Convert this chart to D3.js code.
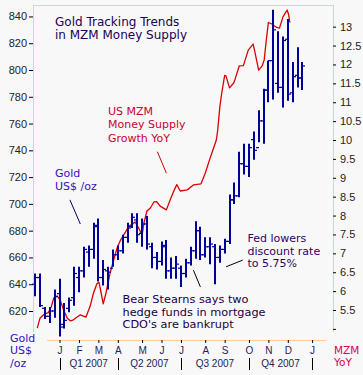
<!DOCTYPE html>
<html>
<head>
<meta charset="utf-8">
<script src="https://d3js.org/d3.v7.min.js"></script>
<style>
body { margin: 0; background: #f8f8f8; }
svg { display: block; font-family: "DejaVu Sans", Verdana, sans-serif; }
.axis .tick text { font-size: 11px; fill: #222; }
.axis .tick line { stroke: #000; }
.months .tick text { font-size: 10px; fill: #2a1a5e; }
.quarter { font-family: "Liberation Sans", Arial, sans-serif; font-size: 10px; fill: #222255; }
.note { font-size: 11px; }
</style>
</head>
<body>
<svg width="363" height="375"></svg>
<script>

// weekly gold bars, one per week, first week starting Monday 27 Nov 2006
var goldWeekStart = "2006-11-27";
var goldHigh  = [648,648,623,623,636,644,626,630,653,653,668,669,686,689,658,653,666,669,677,686,693,693,689,691,671,664,672,673,660,661,654,659,668,687,683,675,675,670,669,674,707,716,739,745,745,754,770,786,807,845,829,825,838,806,817,806];
var goldLow   = [631,623,614,611,615,601,607,619,624,634,645,653,659,642,639,636,653,658,663,671,682,671,668,666,652,651,654,644,644,644,638,645,654,659,658,660,655,640,656,663,670,700,705,722,720,733,746,745,776,778,783,772,777,776,787,785];
var goldOpen  = [640,645,622,616,620,633,610,622,630,645,650,664,666,683,645,650,652,662,665,675,683,688,678,685,668,660,657,668,650,652,652,648,656,665,680,662,668,668,660,666,672,703,706,730,728,748,742,762,785,807,790,787,823,783,796,794];
var goldClose = [645,624,616,620,631,608,613,628,648,650,666,666,684,645,651,649,662,665,675,682,690,677,685,670,660,657,669,650,652,655,648,656,665,680,662,668,670,660,666,672,703,706,730,728,742,740,762,785,807,830,787,822,782,795,794,803];

// US MZM money supply growth, % YoY
var mzmDates = ["2006-11-30","2006-12-04","2006-12-10","2006-12-16","2006-12-20","2006-12-24","2006-12-29",
  "2007-01-02","2007-01-07","2007-01-12","2007-01-17","2007-01-21","2007-01-26","2007-01-31","2007-02-08",
  "2007-02-14","2007-02-19","2007-02-24","2007-02-27","2007-03-02","2007-03-05","2007-03-09","2007-03-15",
  "2007-03-20","2007-03-25","2007-03-30","2007-04-06","2007-04-11","2007-04-15","2007-04-20","2007-04-25",
  "2007-04-30","2007-05-03","2007-05-07","2007-05-12","2007-05-17","2007-05-21","2007-05-26","2007-06-04",
  "2007-06-10","2007-06-14","2007-06-19","2007-06-24","2007-07-04","2007-07-13","2007-07-24","2007-07-30",
  "2007-08-06","2007-08-11","2007-08-15","2007-08-17","2007-08-20","2007-08-23","2007-08-27","2007-08-29",
  "2007-09-03","2007-09-09","2007-09-11","2007-09-17","2007-09-23","2007-09-30","2007-10-07","2007-10-09",
  "2007-10-15","2007-10-20","2007-10-23","2007-10-26","2007-10-29","2007-11-03","2007-11-10","2007-11-14",
  "2007-11-19","2007-11-25","2007-11-27","2007-11-29"];
var mzmValues = [5.02,5.29,5.39,5.43,5.58,5.83,5.86,
  5.76,5.50,5.29,5.21,5.24,5.31,5.37,5.31,
  5.59,5.95,6.20,6.23,5.95,5.66,5.95,6.48,
  6.82,7.14,7.35,7.56,7.72,7.76,7.83,7.67,
  7.49,7.83,8.12,8.20,8.36,8.37,8.25,8.15,
  8.44,8.62,8.82,8.65,8.68,8.81,8.84,9.12,
  9.52,9.78,10.00,10.26,10.87,11.27,11.71,11.69,
  11.38,11.51,11.61,11.96,11.97,12.38,12.54,12.38,
  11.85,11.96,12.12,12.65,13.11,13.07,12.98,12.96,
  13.26,13.44,13.33,13.11];

var goldTicks = [620,640,660,680,700,720,740,760,780,800,820,840];
var mzmTicks = [5,5.5,6,6.5,7,7.5,8,8.5,9,9.5,10,10.5,11,11.5,12,12.5,13];
var monthLabels = ["J","F","M","A","M","J","J","A","S","O","N","D","J"];
var quarterLabels = ["Q1 2007","Q2 2007","Q3 2007","Q4 2007"];

var parse = d3.timeParse("%Y-%m-%d");
var svg = d3.select("svg");

var x = d3.scaleTime()
    .domain([parse("2007-01-01"), parse("2007-12-31")])
    .range([59.5, 312.1]);
var yGold = d3.scaleLinear().domain([620, 800]).range([311, 70]);
var yMzm = d3.scaleLinear().domain([5.5, 10]).range([310, 140]);

var frame = "#ffcc99";
svg.append("line").attr("x1", 33).attr("x2", 333.5).attr("y1", 5.5).attr("y2", 5.5).attr("stroke", frame);
svg.append("line").attr("x1", 33.5).attr("x2", 33.5).attr("y1", 5).attr("y2", 332).attr("stroke", frame);
svg.append("line").attr("x1", 333.5).attr("x2", 333.5).attr("y1", 5).attr("y2", 332).attr("stroke", frame);
svg.append("line").attr("x1", 47).attr("x2", 326).attr("y1", 340.5).attr("y2", 340.5).attr("stroke", frame);

svg.append("g")
    .attr("class", "axis")
    .attr("transform", "translate(33,0)")
    .call(d3.axisLeft(yGold).tickValues(goldTicks).tickSize(4).tickPadding(2))
  .select(".domain").remove();

svg.append("g")
    .attr("class", "axis")
    .attr("transform", "translate(333,0)")
    .call(d3.axisRight(yMzm).tickValues(mzmTicks).tickSize(3).tickPadding(4)
      .tickFormat(function(d) { return d === 5 ? "" : d; }))
  .select(".domain").remove();

// month ticks sit on the week that holds the first of the month
var monthTicks = d3.timeMonth.range(parse("2007-01-01"), parse("2008-01-02"))
    .map(function(d) { return d3.timeMonday.floor(d); });

svg.append("g")
    .attr("class", "axis months")
    .attr("transform", "translate(0,340)")
    .call(d3.axisBottom(x).tickValues(monthTicks).tickSize(3).tickPadding(4)
      .tickFormat(function(d, i) { return monthLabels[i]; }))
  .select(".domain").remove();

var quarterEdges = [0, 3, 6, 9, 12].map(function(i) { return monthTicks[i]; });
svg.selectAll(".qsep")
    .data(quarterEdges)
  .enter().append("line")
    .attr("x1", function(d) { return Math.round(x(d)) + 0.5; })
    .attr("x2", function(d) { return Math.round(x(d)) + 0.5; })
    .attr("y1", 358).attr("y2", 370)
    .attr("stroke", "#000");
svg.selectAll(".quarter")
    .data(quarterLabels)
  .enter().append("text")
    .attr("class", "quarter")
    .attr("x", function(d, i) { return (x(quarterEdges[i]) + x(quarterEdges[i + 1])) / 2; })
    .attr("y", 367)
    .attr("text-anchor", "middle")
    .text(function(d) { return d; });

// MZM line
var mzm = mzmDates.map(function(d, i) { return {date: parse(d), value: mzmValues[i]}; });
svg.append("path")
    .datum(mzm)
    .attr("fill", "none")
    .attr("stroke", "#dd0000")
    .attr("stroke-width", 1.3)
    .attr("stroke-linejoin", "round")
    .attr("d", d3.line()
      .x(function(d) { return x(d.date); })
      .y(function(d) { return yMzm(d.value); }));

// gold weekly bars
var gold = goldHigh.map(function(h, i) {
  return {date: d3.timeDay.offset(parse(goldWeekStart), 7 * i),
          high: h, low: goldLow[i], open: goldOpen[i], close: goldClose[i]};
});
var bars = svg.append("g").attr("stroke", "#000099");
gold.forEach(function(d) {
  var bx = Math.round(x(d.date));
  bars.append("line").attr("x1", bx).attr("x2", bx)
      .attr("y1", yGold(d.high)).attr("y2", yGold(d.low)).attr("stroke-width", 2);
  bars.append("line").attr("x1", bx - 3).attr("x2", bx)
      .attr("y1", yGold(d.open)).attr("y2", yGold(d.open)).attr("stroke-width", 1.2);
  bars.append("line").attr("x1", bx).attr("x2", bx + 3)
      .attr("y1", yGold(d.close)).attr("y2", yGold(d.close)).attr("stroke-width", 1.2);
});

// pointer lines, given in chart units (date, gold price)
var pointers = [
  {a: ["2007-01-16", 703], b: ["2007-01-31", 685], color: "#000066"},
  {a: ["2007-05-22", 739], b: ["2007-06-04", 723], color: "#cc0000"},
  {a: ["2007-07-13", 650.5], b: ["2007-07-23", 638], color: "#000"},
  {a: ["2007-08-29", 653], b: ["2007-09-22", 658], color: "#000"}
];
pointers.forEach(function(p) {
  svg.append("line")
      .attr("x1", x(parse(p.a[0]))).attr("y1", yGold(p.a[1]))
      .attr("x2", x(parse(p.b[0]))).attr("y2", yGold(p.b[1]))
      .attr("stroke", p.color);
});

function note(lines, px, py, step, color, size) {
  var t = svg.append("text").attr("class", "note").attr("fill", color)
      .style("font-size", size + "px");
  lines.forEach(function(s, i) {
    t.append("tspan").attr("x", px).attr("y", py + i * step).text(s);
  });
}

note(["Gold Tracking Trends", "in MZM Money Supply"], 55, 25.5, 13.5, "#220055", 12);
note(["US MZM", "Money Supply", "Growth YoY"], 108, 115, 13.3, "#cc0033", 11);
note(["Gold", "US$ /oz"], 55, 176.7, 13, "#3311bb", 11);
note(["Fed lowers", "discount rate", "to 5.75%"], 247.5, 241.7, 12.8, "#330066", 11);
note(["Bear Stearns says two", "hedge funds in mortgage", "CDO's are bankrupt"], 122.5, 303.3, 12.5, "#220044", 11.3);
note(["Gold", "US$", "/oz"], 10, 341.5, 12.5, "#3311bb", 11);
note(["MZM", "YoY"], 334, 354, 12, "#dd0055", 10.5);

</script>
</body>
</html>
